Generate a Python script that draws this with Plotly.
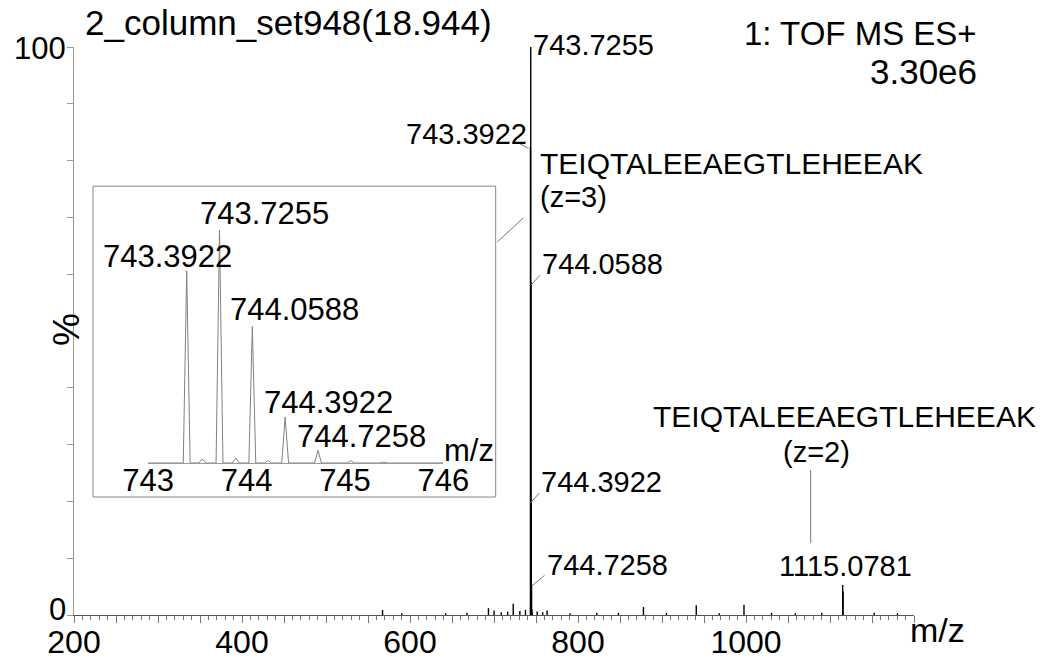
import plotly.graph_objects as go

# ---- spectrum data (relative intensity, %) ----
cluster_mz = [743.3922, 743.7255, 744.0588, 744.3922, 744.7258]
cluster_int = [82.5, 100.0, 58.6, 19.7, 5.4]

minor_mz = [743.55, 743.89, 744.22, 745.06, 745.39]
minor_int = [1.7, 2.1, 1.1, 1.0, 0.4]

z2_mz = [1115.0781, 1115.5795]
z2_int = [5.3, 4.1]

noise_mz = [567.3, 590.2, 642.5, 667.8, 693.4, 700.1, 708.6, 716.3, 722.9, 730.8,
            737.5, 751.4, 757.9, 763.2, 790.6, 822.4, 848.1, 877.9, 905.3, 940.8,
            968.2, 997.6, 1030.4, 1058.7, 1090.2, 1152.6, 1180.3]
noise_int = [0.9, 0.3, 0.3, 0.4, 1.2, 0.8, 0.5, 0.6, 2.0, 0.7,
             0.9, 0.6, 0.5, 0.8, 0.3, 0.4, 0.4, 1.4, 0.4, 1.7,
             0.3, 1.8, 0.4, 0.3, 0.4, 0.4, 0.3]

x_ticks = list(range(200, 1201, 50))
x_labels = ["200", "400", "600", "800", "1000"]
y_ticks = list(range(0, 101, 10))
y_labels = [0, 100]
inset_ticks = [743, 744, 745, 746]

title_text = "2_column_set948(18.944)"
scan_text = "1: TOF MS ES+"
scale_text = "3.30e6"
peptide = "TEIQTALEEAEGTLEHEEAK"

FONT = "Liberation Sans, Arial, sans-serif"

# ---- main spectrum as centroid sticks ----
all_mz = noise_mz + cluster_mz + minor_mz + z2_mz
all_int = noise_int + cluster_int + minor_int + z2_int
order = sorted(range(len(all_mz)), key=lambda i: all_mz[i])
sx, sy = [], []
for i in order:
    sx += [all_mz[i], all_mz[i], None]
    sy += [0, all_int[i], None]

# ---- zoomed isotope envelope as narrow profile peaks ----
HALF_W = 0.035
inset_peaks = sorted(zip(cluster_mz + minor_mz, cluster_int + minor_int))
ix, iy = [inset_ticks[0]], [0]
for m, h in inset_peaks:
    ix += [m - HALF_W, m, m + HALF_W]
    iy += [0, h, 0]
ix.append(inset_ticks[-1])
iy.append(0)

fig = go.Figure()
fig.add_trace(go.Scatter(x=sx, y=sy, mode="lines", line=dict(color="black", width=1.4),
                         hoverinfo="skip", showlegend=False))
fig.add_trace(go.Scatter(x=ix, y=iy, mode="lines", line=dict(color="#808080", width=1),
                         xaxis="x2", yaxis="y2", hoverinfo="skip", showlegend=False))

fig.update_layout(
    template="none",
    width=1043, height=662,
    margin=dict(l=74, r=129, t=47, b=47),
    paper_bgcolor="white", plot_bgcolor="white",
    showlegend=False,
    xaxis=dict(
        range=[200, 1200], domain=[0, 1], showgrid=False, zeroline=False,
        showline=True, linecolor="#555", linewidth=1,
        ticks="outside", ticklen=7, tickcolor="#777", tickwidth=1,
        tickmode="array", tickvals=x_ticks,
        ticktext=[str(v) if str(v) in x_labels else "" for v in x_ticks],
        tickfont=dict(family=FONT, size=32, color="black"),
        ticklabelstandoff=-8,
        minor=dict(dtick=10, tick0=200, ticks="outside", ticklen=4, tickcolor="#777"),
        automargin=False,
    ),
    yaxis=dict(
        range=[0, 100], showgrid=False, zeroline=False,
        showline=True, linecolor="#999", linewidth=1,
        ticks="outside", ticklen=6, tickcolor="#999",
        tickmode="array", tickvals=y_ticks, showticklabels=False,
        automargin=False,
    ),
    xaxis2=dict(
        domain=[0.0882, 0.4398], anchor="y2", range=[743, 746],
        showgrid=False, zeroline=False, showline=True, linecolor="#999", linewidth=1,
        ticks="", tickmode="array", tickvals=inset_ticks,
        tickfont=dict(family=FONT, size=31, color="black"),
        ticklabelstandoff=-10, automargin=False,
    ),
    yaxis2=dict(domain=[0.2676, 0.6778], anchor="x2", range=[0, 100], visible=False),
)

# inset frame
fig.add_shape(type="rect", xref="paper", yref="paper", x0=0.0226, x1=0.502, y0=0.2077, y1=0.755,
              line=dict(color="#888", width=1))

ann = []


def label(text, x, y, xanchor, dx, dy, size=29, xref="x", yref="y"):
    ann.append(dict(text=text, x=x, y=y, xref=xref, yref=yref, xanchor=xanchor, yanchor="middle",
                    xshift=dx, yshift=dy, showarrow=False,
                    font=dict(family=FONT, size=size, color="black")))


def leader(x, y, dx0, dy0, dx1, dy1, xref="x", yref="y", color="#777"):
    fig.add_shape(type="line", xref=xref, yref=yref, xsizemode="pixel", ysizemode="pixel",
                  xanchor=x, yanchor=y, x0=dx0, y0=dy0, x1=dx1, y1=dy1,
                  line=dict(color=color, width=1))


# y-axis end labels (0 and 100), nudged off the x-axis labels
label(str(y_labels[0]), 0, y_labels[0], "right", -6, 6, 31, "paper", "y")
label(str(y_labels[1]), 0, y_labels[1], "right", -6, -1, 31, "paper", "y")

# main isotope labels with leader lines
m0, m1, m2, m3, m4 = cluster_mz
h0, h1, h2, h3, h4 = cluster_int
label("743.7255", m1, h1, "left", 0, 2)
label("743.3922", m0, h0, "right", -1, 12)
leader(m0, h0, -2, -2, -11, 3)
label("744.0588", m2, h2, "left", 9, 18)
leader(m2, h2, 0, -3, 9, 7)
label("744.3922", m3, h3, "left", 8, 21)
leader(m3, h3, -1, 0, 8, 10)
label("744.7258", m4, h4, "left", 13, 19)
leader(m4, h4, 1, -1, 13, 9)

# doubly charged ion
label("1115.0781", z2_mz[0], z2_int[0], "center", 3, 19)
leader(z2_mz[0], z2_int[0], -32, 42, -32, 115)
label(peptide, z2_mz[0], z2_int[0], "center", 2, 168, 30)
label("(z=2)", z2_mz[0], z2_int[0], "center", -26, 133)

# triply charged ion
label(peptide, m1, h1, "left", 7, -116, 30)
label("(z=3)", m1, h1, "left", 7, -150)
leader(m1, h1, -33.5, -195, -7.5, -171)

# inset peak labels
label("743.7255", m1, h1, "left", -22, 17, 31, "x2", "y2")
label("743.3922", m0, h0, "left", -86, 14, 31, "x2", "y2")
label("744.0588", m2, h2, "left", -24, 17, 31, "x2", "y2")
label("744.3922", m3, h3, "left", -23, 15, 31, "x2", "y2")
label("744.7258", m4, h4, "left", -23, 14, 31, "x2", "y2")
label("m/z", inset_ticks[-1], 0, "center", 26, 12, 31, "x2", "y2")

# axis captions and header
label("m/z", 1200, 0, "center", 23, -15, 34)
ann.append(dict(text="%", x=-0.0083, y=0.502, xref="paper", yref="paper", textangle=-90,
                showarrow=False, xanchor="center", yanchor="middle",
                font=dict(family=FONT, size=37, color="black")))
ann.append(dict(text=title_text, x=0.0107, y=1.044, xref="paper", yref="paper", showarrow=False,
                xanchor="left", yanchor="middle", font=dict(family=FONT, size=35, color="black")))
ann.append(dict(text=scan_text, x=1.0775, y=1.0246, xref="paper", yref="paper", showarrow=False,
                xanchor="right", yanchor="middle", font=dict(family=FONT, size=33, color="black")))
ann.append(dict(text=scale_text, x=1.0775, y=0.9577, xref="paper", yref="paper", showarrow=False,
                xanchor="right", yanchor="middle", font=dict(family=FONT, size=35, color="black")))

fig.update_layout(annotations=ann)
fig.write_html("out.html")
